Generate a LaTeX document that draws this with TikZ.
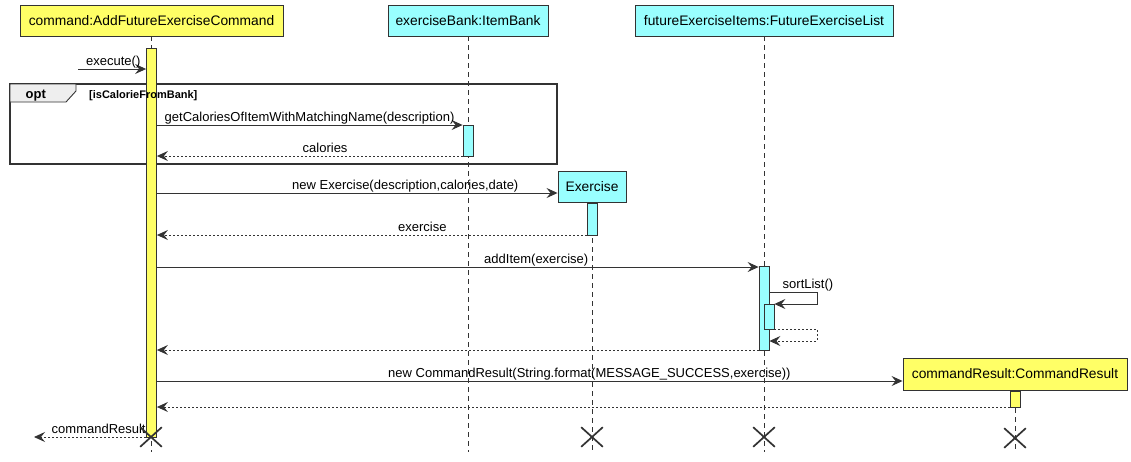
\documentclass[tikz,border=0pt]{standalone}
\usepackage{fontspec}
\setmainfont{Liberation Sans}
\usetikzlibrary{arrows.meta,calc,shapes.misc}
\definecolor{pyel}{HTML}{FFFF66}
\definecolor{pcyan}{HTML}{99FFFF}
\definecolor{ink}{HTML}{333333}
\definecolor{tabgray}{HTML}{EEEEEE}
\begin{document}
\begin{tikzpicture}[x=1pt,y=-1pt,
  part/.style={draw=ink,line width=0.9pt,inner sep=0pt,font=\fontsize{13.8}{16}\selectfont},
  actbar/.style={draw=ink,line width=0.8pt,inner sep=0pt,minimum width=10pt},
  life/.style={draw=ink,line width=0.8pt,dash pattern=on 5pt off 4pt},
  msg/.style={draw=ink,line width=0.9pt,-{Stealth[length=11pt,width=10pt,inset=4pt]}},
  ret/.style={msg,dash pattern=on 2pt off 2pt},
  lbl/.style={inner sep=0pt,anchor=base west,font=\fontsize{13}{15}\selectfont,text=black},
  destroy/.style={cross out,draw=ink,line width=1.7pt,minimum width=20pt,minimum height=18pt,inner sep=0pt}
]
\useasboundingbox[fill=white] (0,0) rectangle (1131,461);

% participants
\node[part,fill=pyel,minimum width=263pt,minimum height=31pt] (cmd) at (151.5,20.5) {command:AddFutureExerciseCommand};
\node[part,fill=pcyan,minimum width=160pt,minimum height=31pt] (bank) at (468,20.5) {exerciseBank:ItemBank};
\node[part,fill=pcyan,minimum width=258pt,minimum height=31pt] (fut) at (764,20.5) {futureExerciseItems:FutureExerciseList};

% lifelines
\coordinate (cmdend) at (151,452);
\draw[life] (cmd.south -| cmdend) -- (cmdend);
\draw[life] (bank.south) -- (bank.south |- cmdend);
\draw[life] (fut.south) -- (fut.south |- cmdend);
\coordinate (exend) at (592,452);
\draw[life] (592,202) -- (exend);
\coordinate (crend) at (1015,452);
\draw[life] (1015,390) -- (crend);

% opt frame
\draw[ink,line width=1.8pt] (10,84) rectangle (557,164);
\path[fill=tabgray,draw=ink,line width=0.9pt] (10,84) -- (76,84) -- (76,91) -- (66,102) -- (10,102) -- cycle;
\node[inner sep=0pt,anchor=base west,font=\fontsize{13}{15}\selectfont\bfseries] (optl) at (25.5,98) {opt};

% activation bars
\node[actbar,fill=pyel,anchor=north,minimum height=389pt] (cmdbar) at (151.5,48) {};
\node[actbar,fill=pcyan,anchor=north,minimum height=31pt] (bankbar) at (468,125) {};
\node[actbar,fill=pcyan,anchor=north,minimum height=84pt] (futbar) at (764,266) {};
\node[actbar,fill=pcyan,anchor=north,minimum height=25pt] (futbar2) at (769,304) {};

\node[inner sep=0pt,anchor=base west,font=\fontsize{11}{13}\selectfont\bfseries] (guard) at (89,98) {[isCalorieFromBank]};

% created participants
\node[part,fill=pcyan,minimum width=68pt,minimum height=31pt] (exer) at (592,186.5) {Exercise};
\node[actbar,fill=pcyan,anchor=north,minimum height=32pt] (exbar) at (592,203) {};
\node[part,fill=pyel,minimum width=224pt,minimum height=32pt] (cres) at (1015,374) {commandResult:CommandResult};
\node[actbar,fill=pyel,anchor=north,minimum height=16pt] (crbar) at (1015,391) {};

% messages
\coordinate (exstart) at (78,69);
\draw[msg] (exstart) -- (cmdbar.west |- exstart);
\node[lbl] (l1) at (86,65) {execute()};

\draw[msg] (cmdbar.east |- 0,125) -- (bankbar.west |- 0,125);
\node[lbl] (l2) at (164.5,121) {getCaloriesOfItemWithMatchingName(description)};

\draw[ret] (bankbar.west |- 0,156) -- (cmdbar.east |- 0,156);
\node[lbl] (l3) at (302.5,152) {calories};

\draw[msg] (cmdbar.east |- 0,193) -- (exer.west |- 0,193);
\node[lbl] (l4) at (292,189) {new Exercise(description,calories,date)};

\draw[ret] (exbar.west |- 0,235) -- (cmdbar.east |- 0,235);
\node[lbl] (l5) at (398,231) {exercise};

\draw[msg] (cmdbar.east |- 0,267) -- (futbar.west |- 0,267);
\node[lbl] (l6) at (484,263) {addItem(exercise)};

\draw[msg] (futbar.east |- 0,292) -- (817,292) -- (817,304) -- (futbar2.east |- 0,304);
\node[lbl] (l7) at (782.5,288) {sortList()};

\draw[ret] (futbar2.east |- 0,329) -- (817,329) -- (817,341) -- (futbar.east |- 0,341);

\draw[ret] (futbar.west |- 0,350) -- (cmdbar.east |- 0,350);

\draw[msg] (cmdbar.east |- 0,381) -- (cres.west |- 0,381);
\node[lbl] (l8) at (388,377) {new CommandResult(String.format(MESSAGE\_SUCCESS,exercise))};

\draw[ret] (crbar.west |- 0,407) -- (cmdbar.east |- 0,407);

\coordinate (crout) at (34,437);
\draw[ret] (cmdbar.west |- crout) -- (crout);
\node[lbl] (l9) at (51.5,433) {commandResult};

% destroys
\node[destroy] (d1) at (151,437) {};
\node[destroy] (d2) at (592,437) {};
\node[destroy] (d3) at (764,437) {};
\node[destroy] (d4) at (1015,438) {};
\end{tikzpicture}
\end{document}
